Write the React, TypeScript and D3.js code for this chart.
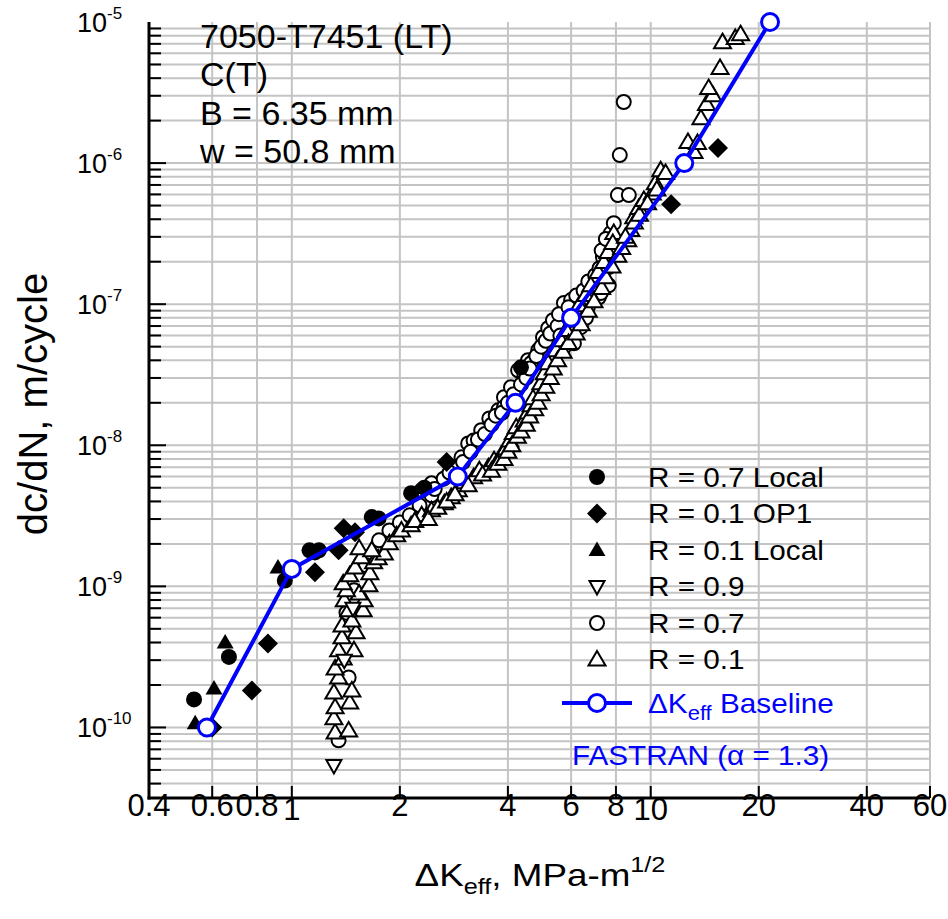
import React from 'react';
import * as d3 from 'd3';

const W = 948;
const H = 919;

// x axis (ΔKeff, MPa·m^1/2) ticks
const xTicks = [0.4, 0.6, 0.8, 1, 2, 4, 6, 8, 10, 20, 40, 60];
const xTickLabels = ['0.4', '0.6', '0.8', '1', '2', '4', '6', '8', '10', '20', '40', '60'];
// y axis (dc/dN, m/cycle) decade ticks
const yDecades = [-10, -9, -8, -7, -6, -5];

const annotation = ['7050-T7451 (LT)', 'C(T)', 'B = 6.35 mm', 'w = 50.8 mm'];

// R = 0.7 Local (filled circles)
const r07Local: [number, number][] = [
  [0.534, 1.58e-10], [0.668, 3.16e-10], [0.956, 1.1e-9], [1.12, 1.8e-9], [1.19, 1.8e-9],
  [1.16, 1.74e-9], [1.67, 3.1e-9], [1.745, 3.03e-9], [2.15, 4.57e-9], [2.34, 5.0e-9], [4.35, 3.57e-8],
];
// R = 0.1 OP1 (filled diamonds)
const r01OP1: [number, number][] = [
  [0.6, 1.0e-10], [0.774, 1.83e-10], [0.858, 3.94e-10], [1.16, 1.26e-9], [1.35, 1.8e-9],
  [1.395, 2.58e-9], [1.5, 2.42e-9], [2.7, 7.6e-9], [11.4, 5.1e-7], [15.4, 1.28e-6],
];
// R = 0.1 Local (filled triangles)
const r01Local: [number, number][] = [
  [0.538, 1.07e-10], [0.607, 1.89e-10], [0.652, 4.0e-10], [0.915, 1.36e-9],
];
// R = 0.9 (open down triangles)
const r09: [number, number][] = [
  [1.31, 5.37e-11], [1.4, 3.0e-10], [1.48, 7.0e-10],
];
// R = 0.7 (open circles)
const r07: [number, number][] = [
  [1.35, 8.1e-11], [1.44, 2.26e-10], [1.42, 6.5e-10], [1.49, 9.4e-10], [1.61, 1.41e-9],
  [1.75, 2.12e-9], [1.87, 2.49e-9], [2.0, 2.84e-9], [2.13, 3.19e-9], [2.27, 3.75e-9],
  [2.45, 4.42e-9], [2.3, 4.8e-9], [2.45, 5.37e-9], [2.84, 6.98e-9], [2.97, 8.22e-9],
  [3.1, 1.03e-8], [3.21, 1.08e-8], [3.37, 1.28e-8], [3.55, 1.55e-8], [3.76, 1.77e-8],
  [3.9, 2.19e-8], [3.9, 1.86e-8], [4.08, 2.58e-8], [4.27, 3.4e-8], [4.44, 3.24e-8],
  [4.55, 4.01e-8], [4.73, 4.01e-8], [4.86, 4.72e-8], [5.01, 5.83e-8], [5.18, 6.76e-8],
  [5.34, 7.7e-8], [5.73, 4.95e-8], [5.73, 1.02e-7], [5.88, 5.56e-8], [6.11, 6.23e-8],
  [6.11, 5.28e-8], [6.27, 8.36e-8], [6.39, 6.87e-8], [6.51, 1.07e-7], [6.0, 1.07e-7],
  [6.68, 9.5e-8], [7.17, 1.12e-7], [6.95, 1.32e-7], [7.26, 1.2e-7], [7.4, 1.41e-7],
  [7.64, 1.36e-7], [7.64, 1.83e-7], [7.36, 2.15e-7], [7.64, 2.75e-7], [7.74, 3.19e-7],
  [7.89, 3.75e-7], [6.81, 1.07e-7], [4.64, 3.82e-8], [8.1, 5.93e-7], [8.69, 5.93e-7],
  [8.2, 1.14e-6], [8.41, 2.71e-6],
  [2.5, 4.9e-9], [2.65, 5.8e-9], [2.75, 6.4e-9], [3.0, 7.6e-9], [3.15, 9.0e-9],
  [3.3, 1.1e-8], [3.45, 1.2e-8], [3.6, 1.4e-8], [3.7, 1.62e-8], [3.85, 1.7e-8],
  [4.0, 2.0e-8], [4.15, 2.3e-8], [4.35, 2.7e-8], [4.5, 3.0e-8], [4.6, 3.5e-8],
  [4.8, 4.3e-8], [4.95, 5.0e-8], [5.1, 5.5e-8], [5.25, 6.2e-8], [5.5, 7.0e-8],
  [5.55, 8.5e-8], [5.9, 9.5e-8], [6.2, 1.15e-7], [6.5, 1.25e-7], [6.7, 1.45e-7],
  [7.0, 1.6e-7], [7.2, 1.8e-7], [7.3, 2.4e-7], [7.5, 2.9e-7], [6.3, 7.5e-8],
  [6.6, 8.0e-8], [5.4, 4.3e-8], [5.6, 6.0e-8],
];
// R = 0.1 (open up triangles)
const r01: [number, number][] = [
  [1.32, 9.2e-11], [1.44, 9.5e-11], [1.31, 1.16e-10], [1.32, 1.39e-10], [1.45, 1.5e-10],
  [1.47, 1.83e-10], [1.31, 1.77e-10], [1.35, 2.26e-10], [1.32, 2.62e-10], [1.39, 3.08e-10],
  [1.49, 3.52e-10], [1.35, 3.52e-10], [1.38, 4.35e-10], [1.51, 4.72e-10], [1.38, 5.29e-10],
  [1.47, 5.74e-10], [1.58, 6.76e-10], [1.44, 6.76e-10], [1.4, 7.96e-10], [1.59, 7.96e-10],
  [1.54, 8.9e-10], [1.42, 9.4e-10], [1.39, 1.05e-9], [1.64, 1.02e-9], [1.45, 1.2e-9],
  [1.65, 1.24e-9], [1.5, 1.36e-9], [1.69, 1.48e-9], [1.56, 1.61e-9], [1.74, 1.58e-9],
  [1.54, 1.86e-9], [1.81, 1.71e-9], [1.67, 1.8e-9], [1.87, 2.02e-9],
  [1.96, 2.3e-9], [2.02, 2.49e-9], [2.15, 2.71e-9], [2.3, 3.19e-9], [2.45, 3.46e-9],
  [2.66, 3.88e-9], [2.78, 4.28e-9], [2.91, 4.8e-9], [3.03, 5.47e-9], [3.21, 5.93e-9],
  [3.33, 6.65e-9], [3.53, 6.98e-9], [3.66, 7.83e-9], [3.83, 8.49e-9], [3.95, 9.5e-9],
  [4.05, 1.08e-8], [4.14, 1.22e-8], [4.22, 1.34e-8], [4.44, 1.5e-8], [4.55, 1.71e-8],
  [4.64, 1.92e-8], [4.7, 2.15e-8], [4.94, 2.75e-8], [5.05, 3.24e-8], [5.18, 3.82e-8],
  [5.45, 4.72e-8], [5.62, 5.56e-8], [5.81, 6.55e-8], [6.07, 7.96e-8], [6.31, 9.84e-8],
  [6.59, 1.16e-7], [6.81, 1.36e-7], [7.13, 1.69e-7], [7.4, 1.99e-7], [7.6, 2.34e-7],
  [7.89, 3.19e-7], [7.84, 2.71e-7], [8.63, 2.84e-7], [8.8, 3.35e-7], [8.97, 4.14e-7],
  [9.26, 4.8e-7], [9.57, 5.47e-7], [10.1, 6.1e-7], [10.3, 7.2e-7], [10.66, 8.9e-7],
  [11.0, 8.5e-7], [13.2, 1.2e-6], [12.7, 1.41e-6], [13.5, 1.39e-6], [13.8, 2.08e-6],
  [14.3, 2.62e-6], [14.9, 3.03e-6], [14.5, 3.4e-6], [15.6, 4.72e-6], [15.85, 7.2e-6],
  [17.2, 7.7e-6], [17.8, 8.2e-6],
  [2.2, 2.9e-9], [2.4, 3.0e-9], [2.55, 3.6e-9], [2.7, 4.0e-9], [2.85, 4.5e-9],
  [3.1, 5.2e-9], [3.4, 6.2e-9], [3.6, 6.6e-9], [3.75, 7.4e-9], [3.9, 8.0e-9],
  [4.0, 9.0e-9], [4.1, 1.0e-8], [4.25, 1.15e-8], [4.35, 1.25e-8], [4.5, 1.4e-8],
  [4.6, 1.6e-8], [4.75, 1.8e-8], [4.85, 2.0e-8], [4.95, 2.3e-8], [5.1, 2.6e-8],
  [5.25, 3.0e-8], [5.35, 3.5e-8], [5.5, 4.0e-8], [5.7, 4.6e-8], [5.9, 5.3e-8],
  [6.2, 6.2e-8], [6.4, 7.2e-8], [6.7, 9.0e-8], [6.95, 1.05e-7], [7.3, 1.3e-7],
  [7.5, 1.55e-7], [7.8, 1.85e-7], [8.1, 2.2e-7], [8.3, 2.5e-7], [8.5, 3.0e-7],
  [9.0, 3.8e-7], [9.3, 4.3e-7], [9.8, 5.2e-7], [10.4, 6.5e-7],
];
// ΔKeff baseline (FASTRAN, alpha = 1.3)
const baseline: [number, number][] = [
  [0.58, 1.0e-10], [1.0, 1.33e-9], [2.9, 6.0e-9], [4.2, 2.0e-8], [6.0, 8.0e-8], [12.4, 1.0e-6], [21.5, 1.0e-5],
];

const FONT = '"Liberation Sans", Arial, sans-serif';
const BLUE = '#0000ff';
const GRID = '#c4c4c4';

const left = 149, right = 930, top = 22, bottom = 798;
const x = d3.scaleLog().domain([0.4, 60]).range([left, right]);
const y = d3.scaleLog().domain([Math.pow(10, -10.5), 1e-5]).range([bottom, top]);

const yMinor: number[] = [];
for (let e = -11; e <= -6; e++) {
  for (let m = 1; m <= 9; m++) {
    const v = m * Math.pow(10, e);
    if (v >= Math.pow(10, -10.5) * 0.999 && v <= 1e-5 * 1.001) yMinor.push(v);
  }
}

const triUp = 'M0,-8.5L8.5,6L-8.5,6Z';
const triDown = 'M-7.5,-5.5L7.5,-5.5L0,8Z';
const diamond = 'M0,-10L10,0L0,10L-10,0Z';

function Marker({ kind, cx, cy }: { kind: string; cx: number; cy: number }) {
  const t = `translate(${cx},${cy})`;
  switch (kind) {
    case 'fcircle':
      return <circle cx={cx} cy={cy} r={8} fill="#000" />;
    case 'fdiamond':
      return <path d={diamond} transform={t} fill="#000" />;
    case 'ftri':
      return <path d={triUp} transform={t} fill="#000" />;
    case 'odown':
      return <path d={triDown} transform={t} fill="#fff" stroke="#000" strokeWidth={2} />;
    case 'ocircle':
      return <circle cx={cx} cy={cy} r={7} fill="#fff" stroke="#000" strokeWidth={2} />;
    case 'otri':
      return <path d={triUp} transform={t} fill="#fff" stroke="#000" strokeWidth={2} />;
    default:
      return null;
  }
}

const series: { kind: string; data: [number, number][]; label: string }[] = [
  { kind: 'fcircle', data: r07Local, label: 'R = 0.7 Local' },
  { kind: 'fdiamond', data: r01OP1, label: 'R = 0.1 OP1' },
  { kind: 'ftri', data: r01Local, label: 'R = 0.1 Local' },
  { kind: 'odown', data: r09, label: 'R = 0.9' },
  { kind: 'ocircle', data: r07, label: 'R = 0.7' },
  { kind: 'otri', data: r01, label: 'R = 0.1' },
];
const drawOrder = [4, 5, 3, 0, 1, 2];

export default function App() {
  const line = d3.line<[number, number]>().x(d => x(d[0])).y(d => y(d[1]));
  return (
    <svg width={W} height={H} style={{ position: 'absolute', left: 0, top: 0, background: '#fff' }} fontFamily={FONT}>
      <rect x={0} y={0} width={W} height={H} fill="#fff" />
      {/* grid */}
      {yMinor.map((v, i) => (
        <line key={'gy' + i} x1={left} x2={right} y1={y(v)} y2={y(v)} stroke={GRID} strokeWidth={2} />
      ))}
      {xTicks.map((v, i) => (
        <line key={'gx' + i} x1={x(v)} x2={x(v)} y1={top} y2={bottom} stroke={GRID} strokeWidth={2} />
      ))}
      {/* data */}
      {drawOrder.map(si => (
        <g key={'s' + si}>
          {series[si].data.map((d, i) => (
            <Marker key={i} kind={series[si].kind} cx={x(d[0])} cy={y(d[1])} />
          ))}
        </g>
      ))}
      {/* baseline */}
      <path d={line(baseline) || ''} fill="none" stroke={BLUE} strokeWidth={4} />
      {baseline.map((d, i) => (
        <circle key={'b' + i} cx={x(d[0])} cy={y(d[1])} r={8.5} fill="#fff" stroke={BLUE} strokeWidth={3} />
      ))}
      {/* axes */}
      <line x1={left} x2={left} y1={top} y2={bottom + 1.5} stroke="#000" strokeWidth={3} />
      <line x1={left - 1.5} x2={right} y1={bottom} y2={bottom} stroke="#000" strokeWidth={3} />
      {yMinor.map((v, i) => {
        const major = Math.abs(Math.log10(v) - Math.round(Math.log10(v))) < 1e-6;
        return (
          <line key={'ty' + i} x1={left} x2={left + (major ? 17 : 12)} y1={y(v)} y2={y(v)} stroke="#000" strokeWidth={2} />
        );
      })}
      {xTicks.map((v, i) => (
        <line key={'tx' + i} x1={x(v)} x2={x(v)} y1={bottom} y2={bottom - 12} stroke="#000" strokeWidth={2} />
      ))}
      {/* y tick labels */}
      {yDecades.map(e => (
        <text key={'ly' + e} x={107} y={y(Math.pow(10, e)) + 10} fontSize={27} textAnchor="end">10</text>
      ))}
      {yDecades.map(e => (
        <text key={'lys' + e} x={107} y={y(Math.pow(10, e)) - 3} fontSize={17}>{'-' + Math.abs(e)}</text>
      ))}
      {/* x tick labels */}
      {xTicks.map((v, i) => (
        <text key={'lx' + i} x={x(v)} y={(v === 1 || v === 10) ? 820 : 816} textAnchor="middle" fontSize={31}>{xTickLabels[i]}</text>
      ))}
      {/* axis titles */}
      <g transform="translate(540,886) scale(1.15,1)">
        <text textAnchor="middle" fontSize={32}>
          <tspan>ΔK</tspan>
          <tspan fontSize={22} dy={8}>eff</tspan>
          <tspan dy={-8}>, MPa-m</tspan>
          <tspan fontSize={22} dy={-14}>1/2</tspan>
        </text>
      </g>
      <text transform="translate(47,404) rotate(-90)" textAnchor="middle" fontSize={40}>dc/dN, m/cycle</text>
      {/* annotation */}
      {annotation.map((s, i) => (
        <text key={'an' + i} x={200} y={48 + i * 38.3} fontSize={34}>{s}</text>
      ))}
      {/* legend */}
      {series.map((s, i) => (
        <g key={'lg' + i}>
          <Marker kind={s.kind} cx={597} cy={477 + i * 36.5} />
          <g transform={`translate(648,${477 + i * 36.5 + 9.5}) scale(1.1,1)`}>
            <text fontSize={27}>{s.label}</text>
          </g>
        </g>
      ))}
      <line x1={562} x2={632} y1={703} y2={703} stroke={BLUE} strokeWidth={4} />
      <circle cx={597} cy={703} r={8.5} fill="#fff" stroke={BLUE} strokeWidth={3} />
      <g transform="translate(648,713) scale(1.1,1)">
        <text fontSize={27} fill={BLUE}>
          <tspan>ΔK</tspan>
          <tspan fontSize={20} dy={7}>eff</tspan>
          <tspan dy={-7}> Baseline</tspan>
        </text>
      </g>
      <g transform="translate(572,765) scale(1.1,1)">
        <text fontSize={27} fill={BLUE}>FASTRAN (α = 1.3)</text>
      </g>
    </svg>
  );
}
